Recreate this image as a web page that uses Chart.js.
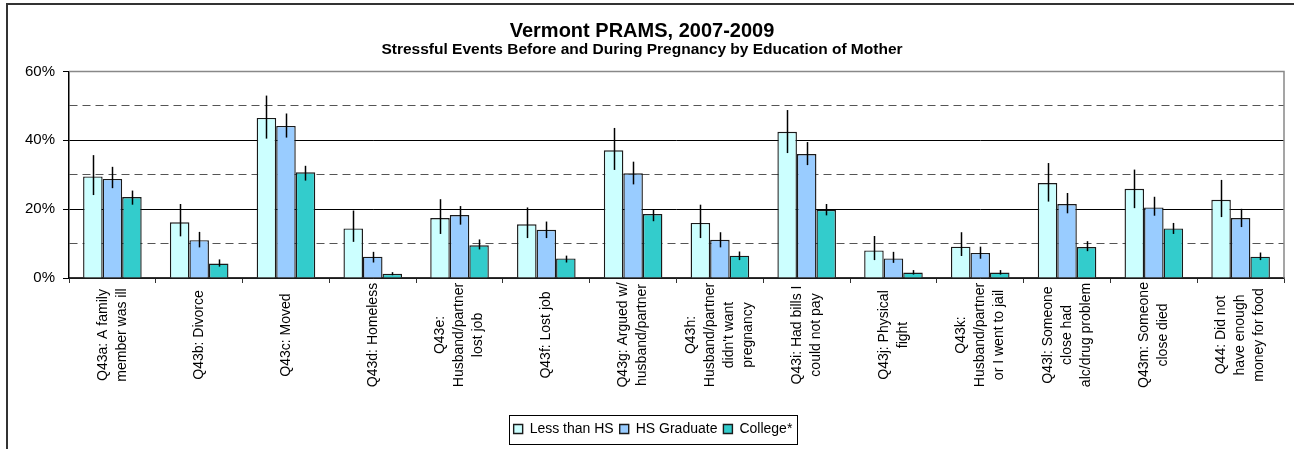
<!DOCTYPE html>
<html>
<head>
<meta charset="utf-8">
<script src="https://cdn.jsdelivr.net/npm/chart.js@4"></script>
<style>
  body { margin:0; background:#fff; }
  canvas { display:block; }
</style>
</head>
<body>
<canvas id="c" width="1294" height="449"></canvas>
<script>
// categories (line breaks as in the original)
const categories = [
  ["Q43a: A family", "member was ill"],
  ["Q43b: Divorce"],
  ["Q43c: Moved"],
  ["Q43d: Homeless"],
  ["Q43e:", "Husband/partner", "lost job"],
  ["Q43f: Lost job"],
  ["Q43g: Argued w/", "husband/partner"],
  ["Q43h:", "Husband/partner", "didn't want", "pregnancy"],
  ["Q43i: Had bills I", "could not pay"],
  ["Q43j: Physical", "fight"],
  ["Q43k:", "Husband/partner", "or I went to jail"],
  ["Q43l: Someone", "close had", "alc/drug problem"],
  ["Q43m: Someone", "close died"],
  ["Q44: Did not", "have enough", "money for food"]
];
const seriesNames = ["Less than HS", "HS Graduate", "College*"];

const lessHS  = [29.5, 16.2, 46.5, 14.4, 17.4, 15.6, 37.1, 16.0, 42.5, 8.0, 9.1, 27.6, 25.9, 22.7];
const hsGrad  = [28.8, 11.0, 44.2, 6.2, 18.3, 14.0, 30.4, 11.1, 36.0, 5.7, 7.3, 21.5, 20.5, 17.4];
const college = [23.5, 4.2, 30.7, 1.2, 9.5, 5.7, 18.6, 6.5, 19.8, 1.6, 1.6, 9.0, 14.4, 6.2];

// confidence intervals
const lessLo = [24.1, 12.1, 40.5, 10.5, 12.8, 11.6, 31.4, 11.6, 36.3, 5.2, 6.4, 22.2, 20.3, 17.7];
const lessHi = [35.7, 21.5, 53.0, 19.6, 22.9, 20.5, 43.6, 21.3, 48.8, 12.2, 13.3, 33.4, 31.5, 28.5];
const hsLo   = [26.1, 8.9, 40.8, 4.5, 15.5, 11.6, 27.2, 8.9, 32.8, 4.4, 5.6, 18.8, 18.1, 14.8];
const hsHi   = [32.3, 13.4, 47.8, 7.6, 20.9, 16.4, 33.8, 13.3, 39.5, 7.6, 9.1, 24.7, 23.6, 20.1];
const colLo  = [21.3, 3.3, 28.3, 0.8, 8.3, 4.5, 16.5, 5.2, 18.2, 1.0, 1.0, 7.8, 12.8, 5.2];
const colHi  = [25.4, 5.4, 32.6, 1.7, 11.2, 6.5, 19.9, 7.7, 21.5, 2.3, 2.3, 10.7, 16.0, 7.4];

const yTicks = [0, 20, 40, 60];

const colors = ['#CCFFFF', '#99CCFF', '#33CCCC'];
const FONT = '"Liberation Sans", Arial, sans-serif';
const LEGEND_SHIFT = 11;

function makeDataset(label, data, lo, hi, color) {
  return {
    label: label,
    data: data,
    errLo: lo,
    errHi: hi,
    backgroundColor: color,
    borderColor: '#1a1a1a',
    borderWidth: 1.4,
    barPercentage: 1.0,
    categoryPercentage: 0.675
  };
}

// frame around the whole chart + white background + legend box
const framePlugin = {
  id: 'frame',
  afterLayout(chart) {
    const lg = chart.legend;
    if (!lg) return;
    lg.left += LEGEND_SHIFT;
    lg.right += LEGEND_SHIFT;
    lg.legendHitBoxes.forEach(h => { h.left += LEGEND_SHIFT; });
  },
  beforeDraw(chart) {
    const ctx = chart.ctx;
    ctx.save();
    ctx.fillStyle = '#fff';
    ctx.fillRect(0, 0, chart.width, chart.height);
    ctx.strokeStyle = '#333';
    ctx.lineWidth = 2;
    ctx.beginPath();
    ctx.moveTo(7, chart.height);
    ctx.lineTo(7, 4);
    ctx.lineTo(chart.width, 4);
    ctx.stroke();
    ctx.restore();
  },
  afterDraw(chart) {
    const lg = chart.legend;
    if (!lg || !lg.legendHitBoxes.length) return;
    const hb = lg.legendHitBoxes;
    const left = hb[0].left - 5;
    const right = hb[hb.length - 1].left + hb[hb.length - 1].width + 4;
    const cy = hb[0].top + hb[0].height / 2;
    const ctx = chart.ctx;
    ctx.save();
    ctx.strokeStyle = '#000';
    ctx.lineWidth = 1;
    ctx.strokeRect(Math.round(left) + 0.5, Math.round(cy - 14) + 0.5, Math.round(right - left), 29);
    ctx.restore();
  }
};

// error bars drawn through the y scale
const errorBarPlugin = {
  id: 'errbars',
  afterDatasetsDraw(chart) {
    const ctx = chart.ctx;
    const yScale = chart.scales.y;
    ctx.save();
    ctx.strokeStyle = '#000';
    ctx.lineWidth = 1.5;
    chart.data.datasets.forEach((ds, i) => {
      const meta = chart.getDatasetMeta(i);
      meta.data.forEach((bar, j) => {
        const x = Math.round(bar.x) + 0.5;
        ctx.beginPath();
        ctx.moveTo(x, yScale.getPixelForValue(ds.errHi[j]));
        ctx.lineTo(x, yScale.getPixelForValue(ds.errLo[j]));
        ctx.stroke();
      });
    });
    // plot area border on top / right (grey)
    const a = chart.chartArea;
    ctx.strokeStyle = '#888';
    ctx.lineWidth = 1.5;
    ctx.beginPath();
    ctx.moveTo(a.left, a.top);
    ctx.lineTo(a.right, a.top);
    ctx.lineTo(a.right, a.bottom);
    ctx.stroke();
    ctx.restore();
  }
};

// rotated, centred category labels
const xLabelPlugin = {
  id: 'xlabels',
  afterDraw(chart) {
    const ctx = chart.ctx;
    const xs = chart.scales.x;
    const cy = chart.chartArea.bottom + 57;
    const pitch = 19;
    ctx.save();
    ctx.fillStyle = '#000';
    ctx.font = '14px ' + FONT;
    ctx.textAlign = 'center';
    ctx.textBaseline = 'middle';
    categories.forEach((lines, i) => {
      const x = xs.getPixelForTick(i);
      ctx.save();
      ctx.translate(x, cy);
      ctx.rotate(-Math.PI / 2);
      lines.forEach((t, k) => {
        ctx.fillText(t, 0, (k - (lines.length - 1) / 2) * pitch);
      });
      ctx.restore();
    });
    ctx.restore();
  }
};

const chart = new Chart(document.getElementById('c'), {
  type: 'bar',
  data: {
    labels: categories.map(l => l.join(' ')),
    datasets: [
      makeDataset(seriesNames[0], lessHS, lessLo, lessHi, colors[0]),
      makeDataset(seriesNames[1], hsGrad, hsLo, hsHi, colors[1]),
      makeDataset(seriesNames[2], college, colLo, colHi, colors[2])
    ]
  },
  options: {
    responsive: false,
    animation: false,
    layout: { padding: { left: 0, right: 10, top: 0, bottom: 3 } },
    plugins: {
      title: {
        display: true,
        text: 'Vermont PRAMS, 2007-2009',
        color: '#000',
        font: { family: FONT, size: 20, weight: 'bold', lineHeight: 1.1 },
        padding: { top: 20, bottom: 0 }
      },
      subtitle: {
        display: true,
        text: 'Stressful Events Before and During Pregnancy by Education of Mother',
        color: '#000',
        font: { family: FONT, size: 15.5, weight: 'bold', lineHeight: 1.0 },
        padding: { top: 0, bottom: 14 }
      },
      legend: {
        position: 'bottom',
        labels: {
          color: '#000',
          font: { family: FONT, size: 14 },
          boxWidth: 9,
          boxHeight: 9,
          padding: 6
        }
      },
      tooltip: { enabled: false }
    },
    scales: {
      x: {
        grid: {
          offset: true,
          drawOnChartArea: false,
          drawTicks: true,
          tickLength: 5,
          color: '#333'
        },
        border: { color: '#333', width: 1.5 },
        ticks: { display: false },
        afterFit: function(s) { s.height = 138; }
      },
      y: {
        min: 0,
        max: 60,
        grid: {
          color: c => {
            if (!c.tick) return '#000';
            if (c.tick.value === 60) return '#888';
            return c.tick.value % 20 === 0 ? '#000' : '#555';
          },
          lineWidth: 1,
          tickLength: 6,
          tickColor: c => (c.tick && yTicks.indexOf(c.tick.value) >= 0) ? '#000' : 'rgba(0,0,0,0)'
        },
        border: {
          color: '#000',
          width: 1.5,
          dash: c => (c.tick && c.tick.value % 20 !== 0) ? [8, 5] : []
        },
        ticks: {
          stepSize: 10,
          padding: 8,
          color: '#000',
          font: { family: FONT, size: 15 },
          callback: v => yTicks.indexOf(v) >= 0 ? v + '%' : ''
        },
        afterFit: function(s) { s.width = 69; }
      }
    }
  },
  plugins: [framePlugin, errorBarPlugin, xLabelPlugin]
});
</script>
</body>
</html>
